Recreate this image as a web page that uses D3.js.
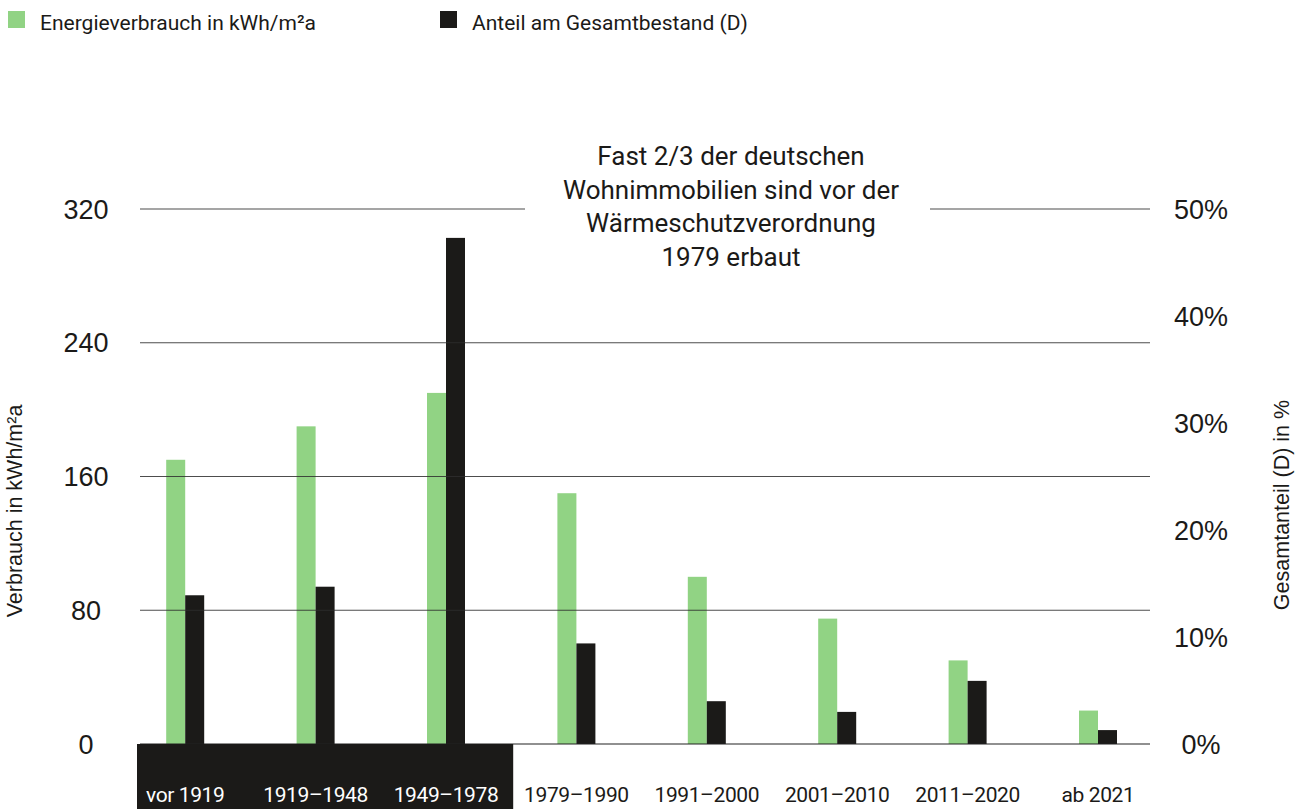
<!doctype html>
<html lang="de">
<head>
<meta charset="utf-8">
<title>Energieverbrauch und Gesamtbestand</title>
<script src="https://cdn.jsdelivr.net/npm/d3@7"></script>
<style>
  body { margin: 0; background: #fff; }
  svg { display: block; }
  .grot { font-family: Roboto, "Noto Sans", sans-serif; }
  .helv { font-family: "Liberation Sans", Arial, sans-serif; }
</style>
</head>
<body>
<svg id="chart"></svg>
<script>
// data
var categories = ['vor 1919', '1919–1948', '1949–1978', '1979–1990', '1991–2000', '2001–2010', '2011–2020', 'ab 2021'];
var verbrauch = [170, 190, 210, 150, 100, 75, 50, 20];        // kWh/m²a
var anteil = [13.9, 14.7, 47.3, 9.4, 4.0, 3.0, 5.9, 1.3];     // % of total stock
var leftTicks = [0, 80, 160, 240, 320];
var rightTicks = [0, 10, 20, 30, 40, 50];
var legendLabels = ['Energieverbrauch in kWh/m²a', 'Anteil am Gesamtbestand (D)'];
var noteLines = ['Fast 2/3 der deutschen', 'Wohnimmobilien sind vor der', 'Wärmeschutzverordnung', '1979 erbaut'];
var darkCount = 3; // first three periods are highlighted below the axis

var width = 1301, height = 809;
var green = '#91d384', black = '#1b1a18', ink = '#1b1a18';

var svg = d3.select('#chart').attr('width', width).attr('height', height);

var plotLeft = 140, plotRight = 1150, y0 = 744, yTop = 209;

var x = d3.scaleBand().domain(categories).range([120, 1163.2]);
var yL = d3.scaleLinear().domain([0, 320]).range([y0, yTop]);
var yR = d3.scaleLinear().domain([0, 50]).range([y0, yTop]);
var barW = 19;

// legend
var legend = svg.append('g');
[[8, green], [440, black]].forEach(function (d, i) {
  legend.append('rect').attr('x', d[0]).attr('y', 11).attr('width', 17).attr('height', 17).attr('fill', d[1]);
  legend.append('text').attr('class', 'grot').attr('x', d[0] + 32).attr('y', 30)
    .attr('font-size', 21).attr('fill', ink).text(legendLabels[i]);
});

// bars
svg.selectAll('rect.green').data(verbrauch).join('rect')
  .attr('class', 'green')
  .attr('x', (d, i) => x(categories[i]) + x.bandwidth() / 2 - barW)
  .attr('y', d => yL(d))
  .attr('width', barW)
  .attr('height', d => y0 - yL(d))
  .attr('fill', green);

svg.selectAll('rect.black').data(anteil).join('rect')
  .attr('class', 'black')
  .attr('x', (d, i) => x(categories[i]) + x.bandwidth() / 2)
  .attr('y', d => yR(d))
  .attr('width', barW)
  .attr('height', d => y0 - yR(d))
  .attr('fill', black);

// gridlines (on top of bars)
svg.selectAll('line.grid').data(leftTicks).join('line')
  .attr('class', 'grid')
  .attr('x1', plotLeft).attr('x2', plotRight)
  .attr('y1', d => yL(d)).attr('y2', d => yL(d))
  .attr('stroke', d => d === 0 ? '#222' : '#2e2e2e')
  .attr('stroke-opacity', d => d === 0 ? 1 : 0.85)
  .attr('stroke-width', 1.2);

// dark strip under the first three periods
svg.append('rect')
  .attr('x', plotLeft - 3)
  .attr('y', y0)
  .attr('width', x(categories[darkCount]) + 2 - (plotLeft - 3))
  .attr('height', height - y0)
  .attr('fill', black);

// category labels
svg.selectAll('text.cat').data(categories).join('text')
  .attr('class', 'cat grot')
  .attr('x', d => x(d) + x.bandwidth() / 2)
  .attr('y', 802)
  .attr('text-anchor', 'middle')
  .attr('font-size', 21)
  .attr('letter-spacing', -0.4)
  .attr('fill', (d, i) => i < darkCount ? '#fff' : ink)
  .text(d => d);

// left tick labels
svg.selectAll('text.lt').data(leftTicks).join('text')
  .attr('class', 'lt helv')
  .attr('x', 86)
  .attr('y', d => yL(d))
  .attr('dy', '0.36em')
  .attr('text-anchor', 'middle')
  .attr('font-size', 27)
  .attr('fill', ink)
  .text(d => d);

// right tick labels
svg.selectAll('text.rt').data(rightTicks).join('text')
  .attr('class', 'rt helv')
  .attr('x', 1201)
  .attr('y', d => yR(d))
  .attr('dy', '0.36em')
  .attr('text-anchor', 'middle')
  .attr('font-size', 27)
  .attr('fill', ink)
  .text(d => d + '%');

// axis titles
svg.append('text').attr('class', 'helv')
  .attr('transform', 'translate(22,511) rotate(-90)')
  .attr('text-anchor', 'middle')
  .attr('font-size', 21.5)
  .attr('fill', ink)
  .text('Verbrauch in kWh/m²a');

svg.append('text').attr('class', 'helv')
  .attr('transform', 'translate(1289,505) rotate(-90)')
  .attr('text-anchor', 'middle')
  .attr('font-size', 21.5)
  .attr('fill', ink)
  .text('Gesamtanteil (D) in %');

// annotation with white backing that breaks the top gridline
svg.append('rect')
  .attr('x', 525).attr('y', 140)
  .attr('width', 405).attr('height', 135)
  .attr('fill', '#fff');

svg.selectAll('text.note').data(noteLines).join('text')
  .attr('class', 'note grot')
  .attr('x', 731)
  .attr('y', (d, i) => 165 + i * 33.7)
  .attr('text-anchor', 'middle')
  .attr('font-size', 26)
  .attr('fill', ink)
  .text(d => d);
</script>
</body>
</html>
